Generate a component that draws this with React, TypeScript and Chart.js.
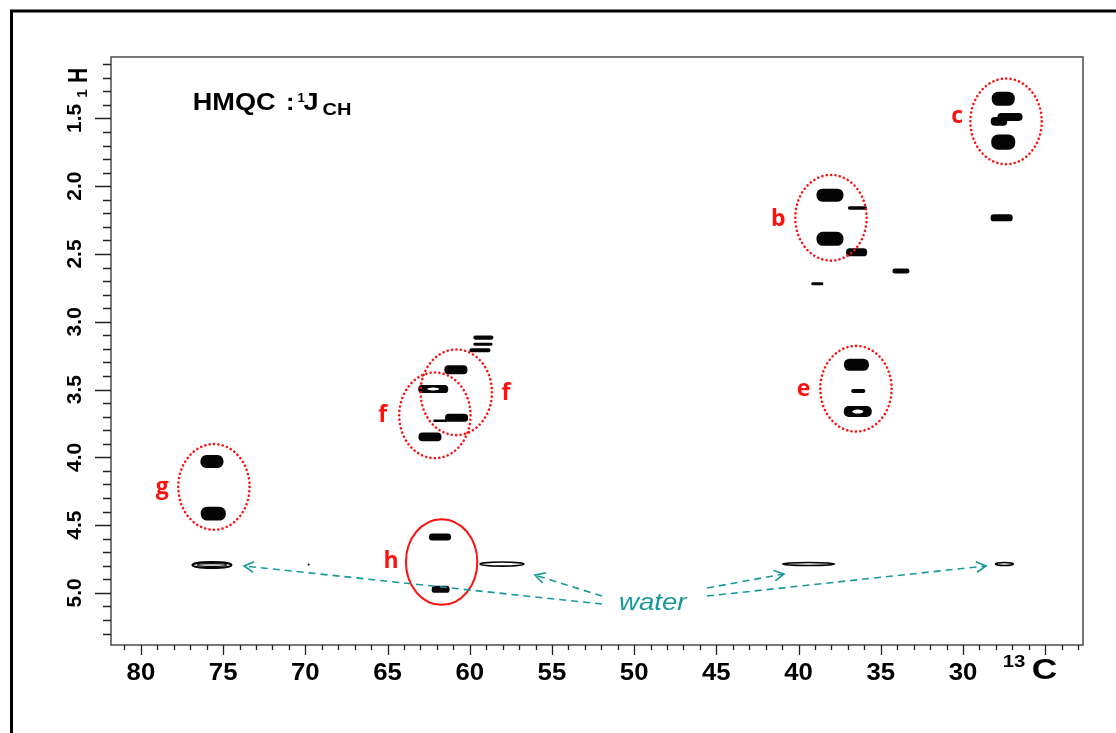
import React, { useEffect, useRef } from 'react';
import { Chart, registerables } from 'chart.js';

Chart.register(...registerables);

// Axis ranges (ppm); both axes run in the NMR convention (reversed)
const X_MIN = 22.7;
const X_MAX = 81.82;
const Y_MIN = 1.047;
const Y_MAX = 5.384;

// Tick marks and labels
const xMajorTicks = [80, 75, 70, 65, 60, 55, 50, 45, 40, 35, 30, 25];
const xTickLabels = ['80', '75', '70', '65', '60', '55', '50', '45', '40', '35', '30', ''];
const xMinorFrom = 23;
const xMinorTo = 81;
const yMajorTicks = [1.5, 2.0, 2.5, 3.0, 3.5, 4.0, 4.5, 5.0];
const yTickLabels = ['1.5', '2.0', '2.5', '3.0', '3.5', '4.0', '4.5', '5.0'];
const yMinorFrom = 1.1;
const yMinorTo = 5.3;

// Cross peaks: 13C shift, 1H shift, contour extent along 13C and 1H (ppm)
const peakC = [27.55, 27.81, 27.14, 27.55, 27.65, 38.09, 36.42, 38.09, 36.47, 33.77, 38.86, 36.48, 36.37, 36.40, 59.17, 59.20, 59.38, 60.84, 62.22, 60.80, 61.80, 62.42, 75.68, 75.60, 61.81, 61.77, 69.80];
const peakH = [1.355, 1.522, 1.489, 1.675, 2.233, 2.066, 2.160, 2.388, 2.487, 2.625, 2.720, 3.317, 3.511, 3.662, 3.117, 3.165, 3.210, 3.354, 3.496, 3.708, 3.730, 3.849, 4.031, 4.415, 4.587, 4.973, 4.790];
const peakSpanC = [1.40, 1.00, 1.52, 1.46, 1.34, 1.64, 1.16, 1.64, 1.28, 1.03, 0.73, 1.52, 0.85, 1.70, 1.22, 1.16, 1.28, 1.40, 1.82, 1.40, 0.85, 1.40, 1.40, 1.52, 1.34, 1.09, 0.12];
const peakSpanH = [0.103, 0.066, 0.059, 0.111, 0.052, 0.096, 0.026, 0.103, 0.059, 0.037, 0.022, 0.089, 0.030, 0.081, 0.030, 0.022, 0.030, 0.066, 0.059, 0.059, 0.018, 0.066, 0.096, 0.103, 0.052, 0.052, 0.015];
// peaks whose contour shows an inner dip (drawn with an opening)
const hollowPeaks = [13, 18];

// Residual water signal
const waterC = [75.68, 58.04, 39.39, 27.48];
const waterH = [4.794, 4.787, 4.787, 4.787];
const waterSpanC = [2.37, 2.68, 3.16, 1.09];
const waterSpanH = [0.044, 0.030, 0.022, 0.022];

// Spin-system groups: name, ellipse centre, label anchor (ppm)
const groupNames = ['c', 'b', 'e', 'f', 'f', 'g', 'h'];
const groupC = [27.38, 38.03, 36.51, 60.82, 62.12, 75.56, 61.71];
const groupH = [1.522, 2.233, 3.494, 3.52, 3.69, 4.218, 4.772];
const groupLabelC = [30.35, 41.24, 39.70, 57.80, 65.30, 78.70, 64.79];
const groupLabelH = [1.532, 2.295, 3.551, 3.58, 3.736, 4.27, 4.818];
const GROUP_RADIUS_C = 2.17;
const GROUP_RADIUS_H = 0.316;
const SOLID_GROUP = 'h';

// "water" callout and its arrows
const waterTextC = 48.87;
const waterTextH = 5.126;
const arrowFromC = [51.96, 51.96, 45.57, 45.57];
const arrowFromH = [5.082, 5.023, 4.964, 5.023];
const arrowToC = [73.73, 56.03, 40.89, 28.60];
const arrowToH = [4.801, 4.868, 4.860, 4.801];

const SANS = '"Liberation Sans", Arial, Helvetica, sans-serif';
const RED = '#ff1010';
const TEAL = '#17999b';

function drawText(
  ctx: CanvasRenderingContext2D, s: string, x: number, y: number,
  font: string, color: string, align: CanvasTextAlign, sx = 1,
) {
  ctx.save();
  ctx.font = font;
  ctx.fillStyle = color;
  ctx.textAlign = align;
  ctx.textBaseline = 'alphabetic';
  ctx.translate(x, y);
  ctx.scale(sx, 1);
  ctx.fillText(s, 0, 0);
  ctx.restore();
}

// Text rotated to read bottom-to-top; bx is the baseline's screen x
function drawUpText(
  ctx: CanvasRenderingContext2D, s: string, bx: number, cy: number,
  font: string, along = 1,
) {
  ctx.save();
  ctx.font = font;
  ctx.fillStyle = '#000';
  ctx.textAlign = 'center';
  ctx.textBaseline = 'alphabetic';
  ctx.translate(bx, cy);
  ctx.rotate(-Math.PI / 2);
  ctx.scale(along, 1);
  ctx.fillText(s, 0, 0);
  ctx.restore();
}

const hmqcPlugin = {
  id: 'hmqcSpectrum',
  beforeDraw(chart: any) {
    const ctx: CanvasRenderingContext2D = chart.ctx;
    ctx.save();
    ctx.fillStyle = '#fff';
    ctx.fillRect(0, 0, chart.width, chart.height);
    // page border
    ctx.strokeStyle = '#000';
    ctx.lineWidth = 3;
    ctx.beginPath();
    ctx.moveTo(11.5, chart.height + 5);
    ctx.lineTo(11.5, 11);
    ctx.lineTo(chart.width + 5, 11);
    ctx.stroke();
    ctx.restore();
  },
  afterDatasetsDraw(chart: any) {
    const ctx: CanvasRenderingContext2D = chart.ctx;
    const xs = chart.scales.x;
    const ys = chart.scales.y;
    const area = chart.chartArea;
    ctx.save();
    ctx.beginPath();
    ctx.rect(area.left, area.top, area.right - area.left, area.bottom - area.top);
    ctx.clip();

    const extent = (d: any) => {
      const xa = xs.getPixelForValue(d.x + d.wC / 2);
      const xb = xs.getPixelForValue(d.x - d.wC / 2);
      const ya = ys.getPixelForValue(d.y - d.wH / 2);
      const yb = ys.getPixelForValue(d.y + d.wH / 2);
      return { l: Math.min(xa, xb), t: Math.min(ya, yb), w: Math.abs(xb - xa), h: Math.abs(yb - ya) };
    };

    // cross peaks
    const peakMeta = chart.getDatasetMeta(0);
    const peakData = chart.data.datasets[0].data;
    peakMeta.data.forEach((el: any, i: number) => {
      const e = extent(peakData[i]);
      const r = Math.min(e.h, e.w) * 0.45;
      ctx.fillStyle = '#050505';
      ctx.beginPath();
      ctx.roundRect(e.l, e.t, e.w, e.h, r);
      ctx.fill();
      if (hollowPeaks.includes(i)) {
        ctx.fillStyle = '#fff';
        ctx.beginPath();
        ctx.ellipse(el.x, el.y, e.w * 0.2, Math.max(e.h * 0.18, 1), 0, 0, Math.PI * 2);
        ctx.fill();
      }
    });

    // water contours
    const waterMeta = chart.getDatasetMeta(1);
    const waterData = chart.data.datasets[1].data;
    ctx.strokeStyle = '#050505';
    waterMeta.data.forEach((el: any, i: number) => {
      const e = extent(waterData[i]);
      ctx.lineWidth = e.h > 5 ? 2 : 1.6;
      ctx.beginPath();
      ctx.ellipse(el.x, el.y, e.w / 2, Math.max(e.h / 2, 0.8), 0, 0, Math.PI * 2);
      ctx.stroke();
      if (e.h > 5) {
        ctx.lineWidth = 1.2;
        ctx.beginPath();
        ctx.ellipse(el.x, el.y, e.w / 2 - 5, e.h / 2 - 1.6, 0, 0, Math.PI * 2);
        ctx.stroke();
      }
    });
    ctx.restore();
  },
  afterDraw(chart: any) {
    const ctx: CanvasRenderingContext2D = chart.ctx;
    const xs = chart.scales.x;
    const ys = chart.scales.y;
    const area = chart.chartArea;
    ctx.save();

    // plot frame
    ctx.strokeStyle = '#555';
    ctx.lineWidth = 1.6;
    ctx.strokeRect(area.left, area.top, area.right - area.left, area.bottom - area.top);

    // ticks
    ctx.strokeStyle = '#222';
    ctx.lineWidth = 1.3;
    ctx.beginPath();
    for (let v = xMinorFrom; v <= xMinorTo + 1e-9; v += 1) {
      const px = Math.round(xs.getPixelForValue(v)) + 0.5;
      const major = xMajorTicks.some((m) => Math.abs(m - v) < 1e-6);
      ctx.moveTo(px, area.bottom);
      ctx.lineTo(px, area.bottom + (major ? 10 : 5));
    }
    for (let k = Math.round(yMinorFrom * 10); k <= Math.round(yMinorTo * 10); k++) {
      const v = k / 10;
      const py = Math.round(ys.getPixelForValue(v)) + 0.5;
      const major = yMajorTicks.some((m) => Math.abs(m - v) < 1e-6);
      ctx.moveTo(area.left, py);
      ctx.lineTo(area.left - (major ? 16 : 8), py);
    }
    ctx.stroke();

    // tick labels
    xMajorTicks.forEach((v, i) => {
      if (!xTickLabels[i]) return;
      drawText(ctx, xTickLabels[i], xs.getPixelForValue(v), area.bottom + 35, `bold 23px ${SANS}`, '#000', 'center', 1.12);
    });
    yMajorTicks.forEach((v, i) => {
      drawUpText(ctx, yTickLabels[i], area.left - 30, ys.getPixelForValue(v), `bold 21px ${SANS}`);
    });

    // axis titles
    drawUpText(ctx, 'H', area.left - 24, area.top + 18.5, `bold 28px ${SANS}`, 0.75);
    drawUpText(ctx, '1', area.left - 24, area.top + 36.5, `bold 15px ${SANS}`);
    drawText(ctx, '13', area.right - 80.3, area.bottom + 21.7, `bold 17px ${SANS}`, '#000', 'left', 1.2);
    drawText(ctx, 'C', area.right - 51.3, area.bottom + 34.3, `bold 29px ${SANS}`, '#000', 'left', 1.22);

    // experiment title
    const tx = area.left;
    const ty = area.top;
    drawText(ctx, 'HMQC', tx + 81.7, ty + 53, `bold 23px ${SANS}`, '#000', 'left', 1.18);
    drawText(ctx, ':', tx + 175, ty + 53, `bold 23px ${SANS}`, '#000', 'left', 1.1);
    drawText(ctx, '1', tx + 186.5, ty + 45, `bold 12px ${SANS}`, '#000', 'left', 1.1);
    drawText(ctx, 'J', tx + 192.5, ty + 53, `bold 23px ${SANS}`, '#000', 'left', 1.18);
    drawText(ctx, 'CH', tx + 211.5, ty + 58, `bold 16px ${SANS}`, '#000', 'left', 1.25);

    // group ellipses and their letters
    groupNames.forEach((name, i) => {
      const cx = xs.getPixelForValue(groupC[i]);
      const cy = ys.getPixelForValue(groupH[i]);
      const rx = Math.abs(xs.getPixelForValue(groupC[i] + GROUP_RADIUS_C) - cx);
      const ry = Math.abs(ys.getPixelForValue(groupH[i] + GROUP_RADIUS_H) - cy);
      ctx.save();
      ctx.strokeStyle = RED;
      if (name === SOLID_GROUP) {
        ctx.setLineDash([]);
        ctx.lineWidth = 2;
      } else {
        ctx.setLineDash([0.01, 4.4]);
        ctx.lineCap = 'round';
        ctx.lineWidth = 2.6;
      }
      ctx.beginPath();
      ctx.ellipse(cx, cy, rx, ry, 0, 0, Math.PI * 2);
      ctx.stroke();
      ctx.restore();
      drawText(ctx, name, xs.getPixelForValue(groupLabelC[i]), ys.getPixelForValue(groupLabelH[i]),
        `bold 23px "Open Sans", ${SANS}`, RED, 'center');
    });

    // water callout
    drawText(ctx, 'water', xs.getPixelForValue(waterTextC), ys.getPixelForValue(waterTextH),
      `italic 23px ${SANS}`, TEAL, 'center', 1.2);
    ctx.strokeStyle = TEAL;
    ctx.lineWidth = 1.6;
    arrowFromC.forEach((c, i) => {
      const x0 = xs.getPixelForValue(c);
      const y0 = ys.getPixelForValue(arrowFromH[i]);
      const x1 = xs.getPixelForValue(arrowToC[i]);
      const y1 = ys.getPixelForValue(arrowToH[i]);
      ctx.setLineDash([7, 5]);
      ctx.beginPath();
      ctx.moveTo(x0, y0);
      ctx.lineTo(x1, y1);
      ctx.stroke();
      const a = Math.atan2(y1 - y0, x1 - x0);
      ctx.setLineDash([]);
      ctx.beginPath();
      ctx.moveTo(x1 - 11 * Math.cos(a - 0.5), y1 - 11 * Math.sin(a - 0.5));
      ctx.lineTo(x1, y1);
      ctx.lineTo(x1 - 11 * Math.cos(a + 0.5), y1 - 11 * Math.sin(a + 0.5));
      ctx.stroke();
    });

    ctx.restore();
  },
};

export default function App() {
  const ref = useRef<HTMLCanvasElement>(null);

  useEffect(() => {
    if (!ref.current) return;
    const peaks = peakC.map((c, i) => ({ x: c, y: peakH[i], wC: peakSpanC[i], wH: peakSpanH[i] }));
    const water = waterC.map((c, i) => ({ x: c, y: waterH[i], wC: waterSpanC[i], wH: waterSpanH[i] }));
    const chart = new Chart(ref.current, {
      type: 'scatter',
      data: {
        datasets: [
          { label: 'cross peaks', data: peaks, pointRadius: 0 },
          { label: 'water', data: water, pointRadius: 0 },
        ],
      },
      options: {
        animation: false,
        responsive: false,
        devicePixelRatio: 1,
        events: [],
        layout: { padding: { left: 111, top: 57, right: 33, bottom: 88 } },
        plugins: { legend: { display: false }, tooltip: { enabled: false } },
        scales: {
          x: { type: 'linear', reverse: true, min: X_MIN, max: X_MAX, display: false },
          y: { type: 'linear', reverse: true, min: Y_MIN, max: Y_MAX, display: false },
        },
      },
      plugins: [hmqcPlugin],
    } as any);
    return () => chart.destroy();
  }, []);

  return (
    <div style={{ position: 'fixed', left: 0, top: 0, width: 1116, height: 733, background: '#fff' }}>
      <canvas ref={ref} width={1116} height={733} style={{ display: 'block' }} />
    </div>
  );
}
